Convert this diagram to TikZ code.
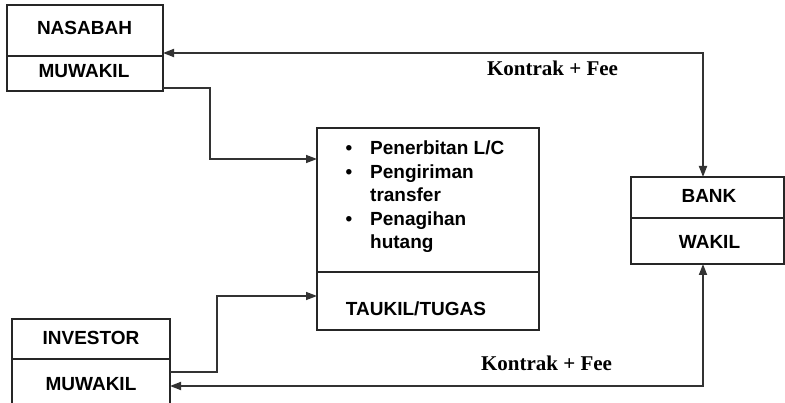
\documentclass[tikz,border=0pt]{standalone}
\usepackage{fontspec}
\setmainfont{Liberation Sans}
\newfontfamily\timesf{Liberation Serif}
\usetikzlibrary{arrows.meta}
\begin{document}
\begin{tikzpicture}[x=1pt,y=-1pt,
  box/.style={draw=black!85, line width=1.3pt, rectangle, inner sep=0pt, outer sep=0pt},
  lbl/.style={font=\fontsize{19}{23}\selectfont\bfseries, inner sep=0pt},
  kf/.style={font=\fontsize{21}{25}\timesf\bfseries, inner sep=0pt},
  conn/.style={draw=black!80, line width=1.4pt},
  arr/.style={-{Triangle[length=11pt,width=8pt]}},
  darr/.style={{Triangle[length=11pt,width=8pt]}-{Triangle[length=11pt,width=8pt]}}
]
\useasboundingbox (0,0) rectangle (785,403);
\clip (0,0) rectangle (785,403);
% boxes
\node[box, minimum width=156pt, minimum height=86pt] (nas) at (85,48) {};
\node[box, minimum width=222pt, minimum height=202pt] (ctr) at (428,229) {};
\node[box, minimum width=153pt, minimum height=87pt] (bank) at (707.5,220.5) {};
\node[box, minimum width=158pt, minimum height=91pt] (inv) at (91,364.5) {};
% dividers
\draw[black!85, line width=1.3pt] (nas.west |- 0,56) -- (nas.east |- 0,56);
\draw[black!85, line width=1.3pt] (ctr.west |- 0,272) -- (ctr.east |- 0,272);
\draw[black!85, line width=1.3pt] (bank.west |- 0,218) -- (bank.east |- 0,218);
\draw[black!85, line width=1.3pt] (inv.west |- 0,359) -- (inv.east |- 0,359);
% box texts
\node[lbl] (t1) at (84.5,27.5) {NASABAH};
\node[lbl] (t2) at (84,71.5) {MUWAKIL};
\node[lbl] (t3) at (91,337.5) {INVESTOR};
\node[lbl] (t4) at (91,384.5) {MUWAKIL};
\node[lbl] (t5) at (709,196) {BANK};
\node[lbl] (t6) at (709.5,242) {WAKIL};
\node[lbl] (t7) at (416,309) {TAUKIL/TUGAS};
% bullet list
\node[lbl, anchor=base] (b1) at (349,155) {•};
\node[lbl, anchor=base west] (l1) at (370,155) {Penerbitan L/C};
\node[lbl, anchor=base] (b2) at (349,178.4) {•};
\node[lbl, anchor=base west] (l2) at (370,178.4) {Pengiriman};
\node[lbl, anchor=base west] (l3) at (370,201.8) {transfer};
\node[lbl, anchor=base] (b3) at (349,225.2) {•};
\node[lbl, anchor=base west] (l4) at (370,225.2) {Penagihan};
\node[lbl, anchor=base west] (l5) at (370,248.6) {hutang};
% contract labels
\node[kf] (k1) at (552.5,68) {Kontrak + Fee};
\node[kf] (k2) at (546.5,363) {Kontrak + Fee};
% connector coordinates
\coordinate (ct) at (703,53);
\coordinate (cb) at (703,386);
\coordinate (n1) at (210,88);
\coordinate (n2) at (210,159);
\coordinate (i1) at (217,372);
\coordinate (i2) at (217,296);
% connectors
\draw[conn, line width=1.8pt, darr] (nas.east |- ct) -- (ct) -- (bank.north -| ct);
\draw[conn, line width=1.8pt, darr] (inv.east |- cb) -- (cb) -- (bank.south -| cb);
\draw[conn, arr] (nas.east |- n1) -- (n1) -- (n2) -- (ctr.west |- n2);
\draw[conn, arr] (inv.east |- i1) -- (i1) -- (i2) -- (ctr.west |- i2);
\end{tikzpicture}
\end{document}
